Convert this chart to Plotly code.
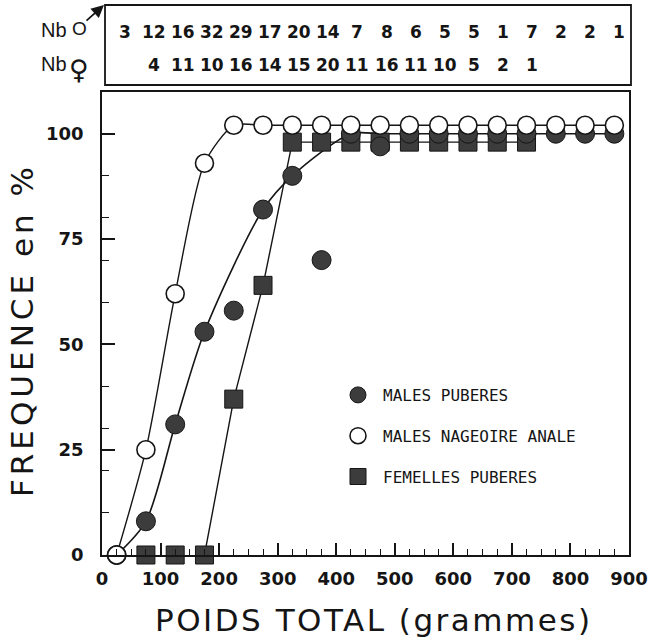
import plotly.graph_objects as go

# ---------------- DATA ----------------
poids = [25, 75, 125, 175, 225, 275, 325, 375, 425, 475, 525, 575, 625, 675, 725, 775, 825, 875]
males_puberes = [0, 8, 31, 53, 58, 82, 90, 70, 100, 97, 100, 100, 100, 100, 100, 100, 100, 100]
males_nageoire = [0, 25, 62, 93, 102, 102, 102, 102, 102, 102, 102, 102, 102, 102, 102, 102, 102, 102]
femelles_puberes = [None, 0, 0, 0, 37, 64, 98, 98, 98, 98, 98, 98, 98, 98, 98, None, None, None]
# fitted curves drawn by hand in the original
males_puberes_curve = [0, 8, 31, 53, None, 82, 90, None, 100, 100, 100, 100, 100, 100, 100, 100, 100, 100]
femelles_curve = [None, None, None, 0, 37, 64, 98, 98, 98, 98, 98, 98, 98, 98, 98, None, None, None]
nb_males = [3, 12, 16, 32, 29, 17, 20, 14, 7, 8, 6, 5, 5, 1, 7, 2, 2, 1]
nb_femelles = [4, 11, 10, 16, 14, 15, 20, 11, 16, 11, 10, 5, 2, 1]
x_ticks = [0, 100, 200, 300, 400, 500, 600, 700, 800, 900]
y_ticks = [0, 25, 50, 75, 100]
legend_names = ["MALES PUBERES", "MALES NAGEOIRE ANALE", "FEMELLES PUBERES"]

# ---------------- LAYOUT GEOMETRY ----------------
W, H = 649, 642
ML, MR, MT, MB = 102, 20, 92, 87
PW, PH = W - ML - MR, H - MT - MB


def px_x(px):
    return (px - ML) / PW


def px_y(py):
    return (H - MB - py) / PH


INK = "#151515"
FILL = "#3c3c3c"
TICKFONT = dict(family="DejaVu Sans", size=18, color=INK, weight="bold")

fig = go.Figure()

# curves (under markers)
fig.add_trace(go.Scatter(x=poids, y=males_nageoire, mode="lines", showlegend=False,
                         line=dict(color=INK, width=1.4, shape="spline", smoothing=0.7),
                         hoverinfo="skip"))
fig.add_trace(go.Scatter(x=poids, y=males_puberes_curve, mode="lines", showlegend=False,
                         connectgaps=True,
                         line=dict(color=INK, width=1.6, shape="spline", smoothing=0.8),
                         hoverinfo="skip"))
fig.add_trace(go.Scatter(x=poids, y=femelles_curve, mode="lines", showlegend=False,
                         line=dict(color=INK, width=1.4), hoverinfo="skip"))

# markers
fig.add_trace(go.Scatter(x=poids, y=femelles_puberes, mode="markers", name=legend_names[2],
                         legendgroup="c", legendrank=3, cliponaxis=False,
                         marker=dict(symbol="square", size=18, color=FILL,
                                     line=dict(color=INK, width=1))))
fig.add_trace(go.Scatter(x=poids, y=males_puberes, mode="markers", name=legend_names[0],
                         legendgroup="a", legendrank=1, cliponaxis=False,
                         marker=dict(symbol="circle", size=19, color=FILL,
                                     line=dict(color=INK, width=1))))
fig.add_trace(go.Scatter(x=poids, y=males_nageoire, mode="markers", name=legend_names[1],
                         legendgroup="b", legendrank=2, cliponaxis=False,
                         marker=dict(symbol="circle", size=18, color="white",
                                     line=dict(color=INK, width=1.6))))

annotations = []
# top box counts
col0, step = 125, 29.06
for k, n in enumerate(nb_males):
    annotations.append(dict(x=px_x(col0 + step * k), y=px_y(32), xref="paper", yref="paper",
                            text=str(n), showarrow=False, xanchor="center", yanchor="middle",
                            font=dict(family="DejaVu Sans", size=17, color=INK, weight="bold")))
for k, n in enumerate(nb_femelles):
    annotations.append(dict(x=px_x(col0 + step * (k + 1)), y=px_y(65), xref="paper", yref="paper",
                            text=str(n), showarrow=False, xanchor="center", yanchor="middle",
                            font=dict(family="DejaVu Sans", size=17, color=INK, weight="bold")))

# Nb labels
for py in (30, 64):
    annotations.append(dict(x=px_x(39), y=px_y(py), xref="paper", yref="paper", text="Nb",
                            showarrow=False, xanchor="left", yanchor="middle",
                            font=dict(family="Liberation Sans", size=20, color=INK)))
annotations.append(dict(x=px_x(79), y=px_y(29), xref="paper", yref="paper", text="O",
                        showarrow=False, xanchor="center", yanchor="middle",
                        font=dict(family="Liberation Sans", size=19, color=INK)))
annotations.append(dict(x=px_x(79), y=px_y(70), xref="paper", yref="paper", text="♀",
                        showarrow=False, xanchor="center", yanchor="middle",
                        font=dict(family="DejaVu Sans", size=27, color=INK)))
# male arrow
annotations.append(dict(x=px_x(104), y=px_y(5), xref="paper", yref="paper", text="",
                        showarrow=True, ax=-19, ay=17, arrowhead=2, arrowsize=1.4,
                        arrowwidth=1.8, arrowcolor=INK))

# axis titles with letter spacing
annotations.append(dict(x=px_x(374), y=px_y(620), xref="paper", yref="paper",
                        text='<span style="letter-spacing:2.5px">POIDS TOTAL (grammes)</span>',
                        showarrow=False, xanchor="center", yanchor="middle",
                        font=dict(family="DejaVu Sans", size=31, color=INK)))
annotations.append(dict(x=px_x(22), y=px_y(330), xref="paper", yref="paper",
                        text='<span style="letter-spacing:4px">FREQUENCE en %</span>',
                        textangle=-90, showarrow=False, xanchor="center", yanchor="middle",
                        font=dict(family="DejaVu Sans", size=31, color=INK)))

shapes = [dict(type="rect", xref="paper", yref="paper",
               x0=px_x(105), x1=px_x(631), y0=px_y(85), y1=px_y(5),
               line=dict(color=INK, width=1.8), fillcolor="rgba(0,0,0,0)")]

fig.update_layout(
    width=W, height=H,
    margin=dict(l=ML, r=MR, t=MT, b=MB, autoexpand=False),
    paper_bgcolor="white", plot_bgcolor="white",
    showlegend=True,
    legend=dict(x=px_x(333), y=px_y(378), xanchor="left", yanchor="top",
                bgcolor="rgba(0,0,0,0)", borderwidth=0, tracegroupgap=17,
                itemwidth=40,
                font=dict(family="DejaVu Sans Mono", size=16, color=INK)),
    annotations=annotations, shapes=shapes,
    xaxis=dict(range=[0, 900], tickvals=x_ticks, ticktext=[str(v) for v in x_ticks],
               ticks="inside", ticklen=12, tickwidth=1.6, tickcolor=INK,
               minor=dict(dtick=25, tick0=0, ticks="inside", ticklen=6, tickwidth=1.4, tickcolor=INK),
               showline=True, linecolor=INK, linewidth=1.8, mirror=True,
               showgrid=False, zeroline=False, tickfont=TICKFONT, ticklabelstandoff=6),
    yaxis=dict(range=[0, 109.9], tickvals=y_ticks, ticktext=[str(v) for v in y_ticks],
               ticks="inside", ticklen=13, tickwidth=1.6, tickcolor=INK,
               minor=dict(dtick=10, tick0=0, ticks="inside", ticklen=7, tickwidth=1.4, tickcolor=INK),
               showline=True, linecolor=INK, linewidth=1.8, mirror=True,
               showgrid=False, zeroline=False, tickfont=TICKFONT, ticklabelstandoff=13),
)

fig.write_html("out.html", config={"displayModeBar": False},
               post_script="document.body.style.margin='0';document.body.style.overflow='hidden';")
